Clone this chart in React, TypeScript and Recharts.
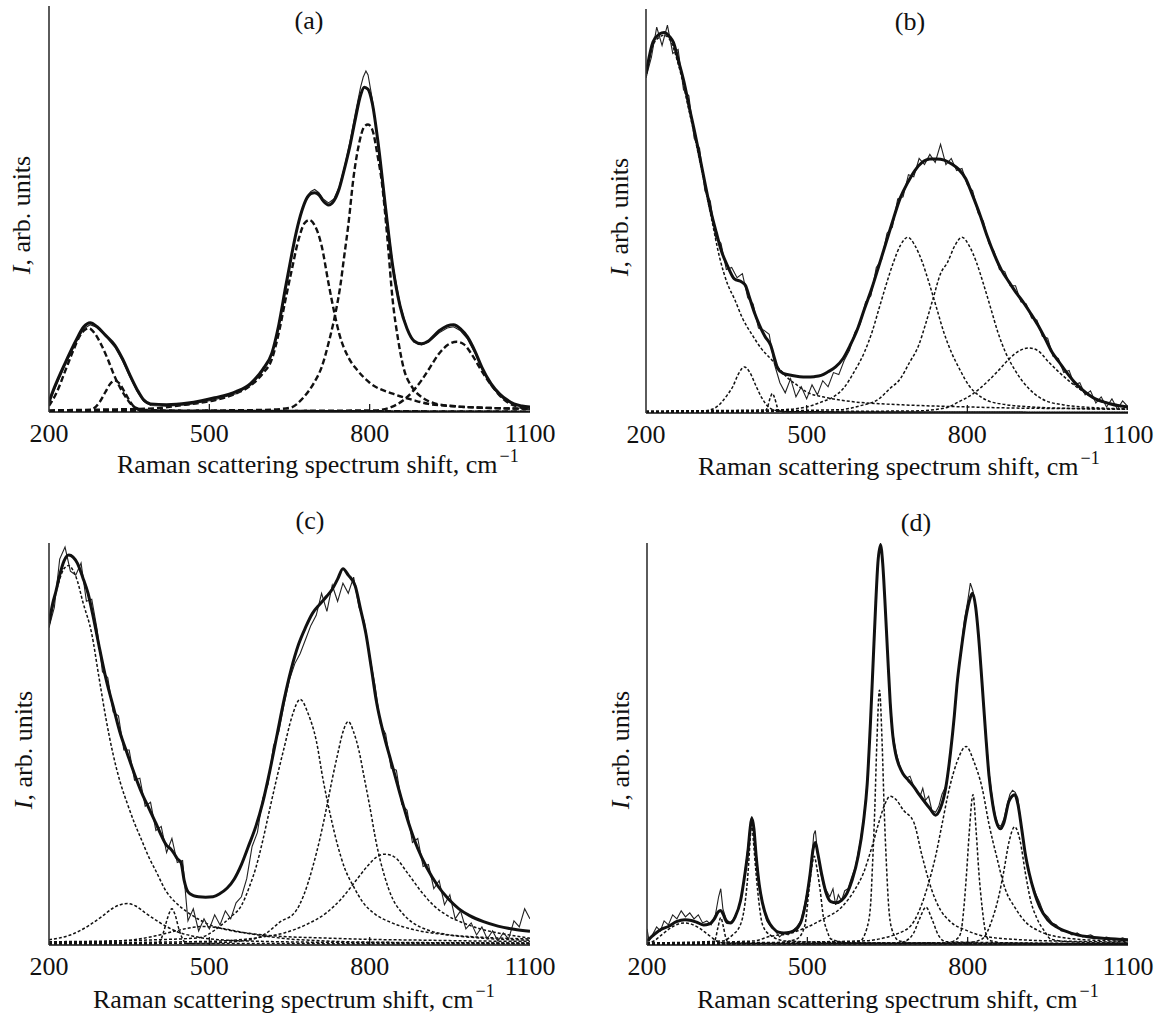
import React from "react";
import { LineChart, Line, XAxis, YAxis, ReferenceLine } from "recharts";

type Pt = [number, number];

const serif = "'Liberation Serif', 'Times New Roman', serif";
const shiftTicks = [200, 500, 800, 1100];
const innerTicks = [500, 800];
const xTitle = "Raman scattering spectrum shift, cm";

// shared wavenumber grid for the noisy measured spectra in (b) and (c)
const expShift = [
  200, 210, 220, 230, 240, 250, 260, 270, 280, 290,
  300, 310, 320, 330, 340, 350, 360, 370, 380, 390,
  400, 410, 420, 430, 440, 450, 460, 470, 480, 490,
  500, 510, 520, 530, 540, 550, 560, 570, 580, 590,
  600, 610, 620, 630, 640, 650, 660, 670, 680, 690,
  700, 710, 720, 730, 740, 750, 760, 770, 780, 790,
  800, 810, 820, 830, 840, 850, 860, 870, 880, 890,
  900, 910, 920, 930, 940, 950, 960, 970, 980, 990,
  1000, 1010, 1020, 1030, 1040, 1050, 1060, 1070, 1080, 1090,
  1100,
];

// ---------- (a) ----------
const aFit: Pt[] = [
  [200, 2.5], [210, 6], [230, 12], [250, 17.5], [265, 21], [277, 22], [290, 21], [305, 19],
  [323, 16.5], [338, 13], [350, 9.5], [365, 5.5], [377, 3], [390, 2], [420, 1.8], [460, 2.2],
  [510, 3.5], [550, 5], [577, 7], [600, 10.5], [617, 14.5], [630, 21.5], [643, 31], [653, 38],
  [663, 44.5], [673, 49.5], [683, 52.8], [690, 53.8], [697, 54], [705, 53.5], [713, 52], [723, 51],
  [733, 52], [743, 55], [753, 60], [763, 65.5], [773, 72], [783, 78], [790, 80], [797, 79.5],
  [805, 76], [817, 65], [830, 50], [843, 36], [857, 26], [870, 20.5], [883, 17.5], [897, 16.8],
  [910, 17.5], [930, 20], [945, 21.2], [957, 21.5], [970, 20.5], [983, 18.5], [997, 15],
  [1010, 11], [1027, 7], [1043, 4.5], [1057, 3], [1070, 2], [1085, 1.5], [1100, 1.2],
];
const aExp: Pt[] = [
  [200, 2], [210, 5.5], [230, 11.5], [250, 17], [265, 20.5], [277, 21.5], [290, 20.8], [305, 18.8],
  [323, 16], [338, 12.5], [350, 9], [365, 5], [377, 2.6], [390, 1.6], [420, 1.4], [460, 1.8],
  [510, 3], [550, 4.5], [577, 6.5], [600, 10], [617, 14], [630, 21], [643, 30.5], [653, 37.5],
  [663, 44.5], [673, 49.8], [683, 53.2], [690, 54.3], [697, 54.8], [705, 54], [713, 52.5],
  [723, 51.5], [733, 52.5], [743, 55.5], [753, 60.5], [763, 66.5], [773, 73.5], [783, 80],
  [788, 82.5], [793, 84], [797, 83], [805, 77], [817, 65.5], [830, 50.5], [843, 36.5],
  [857, 26.5], [870, 20.5], [883, 17.2], [897, 16.5], [910, 17.2], [930, 19.5], [945, 20.7],
  [957, 21], [970, 20], [983, 18], [997, 14.5], [1010, 10.5], [1027, 6.5], [1043, 4],
  [1057, 2.6], [1070, 1.8], [1085, 1.3], [1100, 1],
];
const aPeak1: Pt[] = [
  [200, 1.5], [215, 5], [230, 10], [245, 15], [258, 18.8], [268, 20.3], [275, 20.6], [285, 19.5],
  [298, 16.5], [310, 13], [322, 9], [333, 6], [343, 3.8], [353, 2], [363, 1], [380, 0.5],
  [500, 0.3], [800, 0.2], [1100, 0.1],
];
const aPeak2: Pt[] = [
  [200, 0.2], [270, 0.3], [283, 0.8], [295, 2.5], [305, 4.8], [315, 7], [323, 7.8], [332, 7],
  [342, 4.8], [352, 2.5], [362, 0.9], [375, 0.3], [450, 0.2], [1100, 0.1],
];
const aPeak3: Pt[] = [
  [200, 0.4], [300, 0.6], [400, 0.9], [443, 1.6], [480, 2.2], [510, 2.9], [545, 4.3], [577, 6.5],
  [600, 9.5], [617, 13], [630, 19.5], [643, 28], [655, 35.5], [667, 42.5], [678, 46.5], [687, 47.3],
  [697, 46], [710, 41], [723, 31.7], [733, 25], [743, 19.3], [760, 13.5], [777, 10.3], [800, 7.2],
  [843, 4.5], [880, 3], [910, 2], [960, 1.4], [1000, 1.1], [1050, 0.9], [1100, 0.8],
];
const aPeak4: Pt[] = [
  [200, 0.2], [600, 0.5], [650, 1], [677, 3.7], [695, 7], [710, 11], [725, 18], [737, 25],
  [745, 31], [752, 38], [760, 46], [770, 58], [780, 66], [790, 70.3], [797, 70.8], [805, 69.5],
  [815, 63], [823, 56.4], [833, 43], [843, 27.6], [853, 18], [863, 11.1], [880, 6], [897, 3.7],
  [920, 2.2], [960, 1.4], [1000, 1.1], [1050, 0.9], [1100, 0.8],
];
const aPeak5: Pt[] = [
  [200, 0.1], [810, 0.4], [840, 1.2], [863, 2.9], [880, 5], [897, 7.8], [913, 11], [930, 14.4],
  [947, 16.6], [963, 17.3], [977, 16.6], [990, 14.4], [1010, 10], [1030, 6.2], [1050, 3.2],
  [1070, 1.6], [1085, 1], [1100, 0.7],
];

// ---------- (b) ----------
const bFit: Pt[] = [
  [200, 84], [213, 91.8], [225, 93.8], [234, 94.2], [245, 93], [251, 91.8], [261, 87], [271, 81.9],
  [281, 75.5], [291, 69.5], [301, 63], [311, 56.3], [321, 50], [331, 44.8], [341, 40], [352, 36.5],
  [365, 33.2], [379, 32.4], [386, 31.5], [392, 29.1], [402, 25], [412, 21.7], [422, 19], [433, 16.7],
  [440, 13.5], [446, 11], [456, 9.8], [473, 9.3], [487, 9], [500, 8.9], [514, 9], [527, 9.3],
  [540, 10.2], [554, 11.4], [568, 13.5], [581, 16.7], [595, 20.8], [608, 25.8], [622, 31],
  [635, 36.5], [649, 42.5], [662, 48.1], [675, 53.3], [689, 57.1], [702, 60], [716, 62.1],
  [730, 62.9], [743, 62.9], [757, 62.6], [770, 61.7], [784, 60.3], [797, 58], [810, 53.8],
  [824, 48.9], [837, 43.8], [851, 39], [864, 35.3], [878, 32.4], [891, 29.8], [904, 27.5],
  [918, 24.7], [932, 21.7], [945, 18.5], [958, 15.1], [972, 12.5], [985, 10.1], [999, 7.8],
  [1013, 6], [1026, 4.6], [1039, 3.5], [1053, 2.8], [1066, 2.3], [1083, 1.8], [1100, 1.5],
];
const bExpY = [
  83, 88, 95.5, 91, 96, 89, 90, 80, 78.5, 68,
  65.5, 55, 52.5, 43.5, 42, 35.5, 36, 33.5, 34.5, 28.5,
  27, 21, 20.5, 19.5, 12, 7.5, 5, 8.5, 4, 6.5,
  3.5, 7, 4.5, 8, 6.5, 10, 9.5, 13, 15.5, 20,
  22, 27.5, 29, 36, 38, 44.5, 46, 53, 53.5, 59,
  58.5, 63, 61.5, 64, 62, 66.5, 61.5, 63, 60, 60.5,
  56.5, 55, 49.5, 47.5, 42, 40, 35.5, 35, 31.5, 31.5,
  27.5, 27, 23.5, 23, 19, 18.5, 14, 13.5, 10, 10.5,
  7, 7.5, 4.5, 5.5, 2.5, 4, 1.5, 3.5, 1, 3,
  1.5,
];
const bPeak1: Pt[] = [
  [200, 83], [213, 91], [225, 93], [234, 93.5], [245, 92.3], [261, 86], [281, 74.5], [301, 62],
  [321, 49], [338, 38.2], [352, 32], [365, 28.3], [380, 23.5], [399, 19.2], [415, 16], [433, 13.4],
  [450, 10.8], [466, 8.5], [483, 6.8], [500, 5.2], [530, 4], [568, 3.1], [600, 2.6], [635, 2.3],
  [700, 1.9], [800, 1.5], [900, 1.2], [1000, 1.1], [1100, 1],
];
const bPeak2: Pt[] = [
  [200, 0.3], [300, 0.4], [325, 1], [340, 2.5], [352, 4.5], [362, 6.5], [372, 9.5], [384, 11.4],
  [394, 10], [406, 6.5], [416, 3.8], [427, 1.7], [440, 0.7], [470, 0.3], [1100, 0.2],
];
const bPeak3: Pt[] = [
  [200, 0.2], [420, 0.3], [427, 1.5], [432, 3.8], [436, 4.8], [440, 3.8], [445, 1.5], [452, 0.3],
  [1100, 0.2],
];
const bPeak4: Pt[] = [
  [200, 0.5], [450, 0.8], [500, 1.5], [527, 2.7], [550, 4], [568, 6], [590, 10.5], [608, 15.1],
  [622, 20], [635, 25.8], [649, 32], [662, 37.3], [675, 41.5], [689, 43.5], [702, 41.5],
  [716, 37.3], [729, 32], [743, 25.8], [756, 20], [770, 15.1], [787, 10.5], [803, 6.8], [820, 4.5],
  [837, 3.1], [870, 2.1], [920, 1.5], [1000, 1.1], [1100, 0.9],
];
const bPeak5: Pt[] = [
  [200, 0.3], [560, 0.8], [600, 1.8], [635, 3.5], [655, 6], [675, 8.5], [692, 12.5], [709, 16.7],
  [722, 22], [736, 28.3], [750, 34.5], [763, 37.3], [777, 41.5], [790, 43.5], [803, 41.5],
  [817, 37.3], [830, 32], [844, 25.8], [857, 20], [871, 15.1], [888, 10.8], [904, 7.7], [925, 4.8],
  [945, 3.1], [980, 2], [1040, 1.3], [1100, 1],
];
const bPeak6: Pt[] = [
  [200, 0.3], [700, 0.5], [760, 1.3], [783, 2.7], [810, 4.7], [837, 7.7], [858, 10.5], [878, 13.4],
  [897, 15.4], [915, 16.1], [932, 15.4], [952, 12.6], [972, 10], [992, 7.7], [1015, 5.4],
  [1039, 3.5], [1070, 2.3], [1100, 1.5],
];

// ---------- (c) ----------
const cFit: Pt[] = [
  [200, 80], [207, 85], [213, 88], [220, 92], [228, 95.5], [237, 97], [245, 96.5], [253, 95],
  [263, 91.5], [273, 87.5], [283, 81.5], [293, 74.8], [307, 66], [320, 59.4], [333, 52.8],
  [347, 47.4], [360, 42.5], [373, 38], [387, 34], [400, 30.3], [410, 27.3], [420, 24.8], [427, 24],
  [433, 23], [440, 21.5], [447, 20.5], [453, 16], [460, 13.2], [470, 12.3], [480, 12], [493, 11.9],
  [507, 12], [520, 12.8], [533, 14.1], [547, 16.5], [560, 20], [573, 24.5], [587, 29.5],
  [600, 35.5], [613, 43.2], [627, 52.5], [640, 61.1], [653, 68.5], [667, 74.8], [680, 79],
  [693, 82.5], [707, 84.8], [720, 86.8], [730, 88.5], [740, 91], [750, 93.6], [760, 92],
  [773, 89.3], [783, 83.5], [793, 77.4], [803, 69], [813, 60.3], [827, 52], [840, 45.7],
  [857, 37.5], [873, 30.3], [890, 24], [907, 19.2], [927, 14.8], [947, 11.5], [967, 9],
  [987, 7.3], [1013, 5.8], [1040, 4.7], [1070, 3.9], [1100, 3.4],
];
const cExpY = [
  79, 84, 96, 99, 93, 92, 95, 85.5, 86, 78.5,
  68, 66.5, 58, 57, 48.5, 48.5, 41, 41.5, 34.5, 35.5,
  28.5, 29.5, 23, 26.5, 20.5, 21, 6, 9, 3.5, 6.5,
  4, 7.5, 5, 8.5, 6.5, 10.5, 12, 16.5, 24.5, 28,
  36.5, 40, 49.5, 53, 60, 66, 70, 72.5, 76, 79.5,
  82, 87.5, 83, 89.5, 85.5, 90, 87.5, 91.5, 84, 80.5,
  72, 64.5, 55, 52.5, 44, 43.5, 35, 33.5, 25.5, 26.5,
  19.5, 20, 14, 16, 10, 12.5, 6.5, 8.5, 4, 5.5,
  2.5, 4.5, 1.5, 3.5, 1, 3, 1.5, 6, 4.5, 9,
  6.5,
];
const cPeak1: Pt[] = [
  [200, 79], [207, 84], [213, 87.6], [220, 91], [228, 93.6], [237, 94.4], [245, 93.2], [253, 90.6],
  [263, 85.5], [280, 77.4], [293, 67], [307, 56], [320, 47.4], [333, 40.6], [347, 35], [360, 30.3],
  [373, 26.2], [387, 21.8], [400, 18.4], [420, 13.2], [440, 10.2], [460, 8.1], [480, 6.4],
  [507, 4.7], [540, 3.6], [580, 2.8], [640, 2.1], [700, 1.8], [800, 1.4], [900, 1.2], [1000, 1],
  [1100, 0.9],
];
const cPeak2: Pt[] = [
  [200, 1.3], [240, 2.5], [273, 4.7], [300, 7.2], [320, 9.2], [335, 10.1], [347, 10.3], [362, 9.7],
  [380, 8], [407, 5.6], [440, 3.3], [473, 2.1], [520, 1.3], [600, 0.9], [700, 0.7], [1100, 0.5],
];
const cPeak3: Pt[] = [
  [200, 0.3], [395, 0.3], [407, 0.8], [415, 3.5], [422, 6.8], [430, 9], [436, 7.5], [443, 4],
  [450, 1.5], [458, 0.4], [1100, 0.3],
];
const cPeak4: Pt[] = [
  [200, 0.5], [350, 1.2], [400, 2.3], [440, 3.6], [470, 4.4], [490, 4.6], [520, 4.2], [560, 3.2],
  [600, 2.3], [650, 1.5], [700, 1.1], [800, 0.7], [1100, 0.5],
];
const cPeak5: Pt[] = [
  [200, 0.8], [400, 1.3], [480, 1.8], [520, 4.7], [540, 7], [560, 9.8], [575, 14.5], [587, 19.2],
  [600, 26], [613, 33.8], [627, 42], [640, 49.1], [655, 57], [670, 61.1], [685, 57.5], [700, 50.9],
  [713, 41], [727, 32], [740, 24.8], [753, 19.2], [770, 14.5], [787, 10.7], [810, 7.7], [840, 5.6],
  [880, 3.9], [940, 2.6], [1000, 2], [1100, 1.5],
];
const cPeak6: Pt[] = [
  [200, 0.3], [500, 0.5], [580, 1.4], [607, 3], [633, 5.8], [660, 8.1], [677, 12.5], [693, 19.2],
  [707, 26.5], [720, 34.6], [730, 41.3], [740, 47.4], [750, 53], [760, 55.6], [770, 53],
  [780, 48.3], [790, 41.5], [800, 34.6], [813, 25], [827, 17.5], [843, 11.5], [860, 8.1],
  [880, 5.6], [907, 3.8], [950, 2.5], [1000, 1.8], [1100, 1.2],
];
const cPeak7: Pt[] = [
  [200, 0.5], [500, 0.9], [600, 2], [640, 3], [680, 5], [720, 8.1], [747, 11.5], [773, 15.8],
  [797, 19.8], [812, 21.8], [827, 22.6], [845, 22], [873, 17.5], [897, 13.2], [920, 9.8],
  [947, 7.2], [973, 5.6], [1007, 4], [1040, 3], [1070, 2.3], [1100, 1.7],
];

// ---------- (d) ----------
const dFit: Pt[] = [
  [200, 1], [215, 2.8], [228, 4], [240, 4.6], [255, 5.8], [271, 6.3], [283, 6.1], [294, 5.6],
  [306, 5], [316, 5.2], [326, 6.5], [333, 8.2], [338, 8.6], [343, 7.5], [350, 5.6], [357, 5.5],
  [365, 7], [375, 11], [383, 17.5], [389, 23.5], [393, 29], [396, 31.5], [400, 29], [404, 22.5],
  [410, 15], [416, 10.5], [425, 6.5], [436, 4.2], [446, 3.2], [456, 3], [468, 3.2], [480, 4],
  [490, 6.5], [497, 10.5], [505, 17.5], [511, 24], [515, 25.5], [520, 22.5], [527, 17.5],
  [535, 13], [544, 10.8], [554, 10.5], [564, 11.1], [574, 12.8], [584, 16.2], [595, 22],
  [605, 30.6], [612, 40], [618, 55], [623, 70], [628, 85], [632, 95], [637, 99.5], [641, 95],
  [645, 86], [650, 73], [655, 60.4], [660, 52], [665, 47.7], [672, 44.5], [679, 42.6], [689, 41],
  [699, 39.4], [709, 37.5], [719, 35.7], [729, 34], [740, 32.3], [749, 34], [759, 39.1], [768, 48],
  [775, 57], [780, 64.7], [788, 73.5], [797, 81.7], [803, 85.5], [809, 87.5], [815, 84],
  [820, 77.4], [827, 65], [834, 51.9], [840, 42], [847, 34.9], [854, 30.5], [861, 28.9],
  [868, 30.5], [877, 35.7], [883, 37], [888, 37.4], [894, 35], [901, 29], [908, 22.5], [915, 17.9],
  [925, 13], [935, 9.4], [950, 6.2], [969, 4.3], [995, 2.9], [1022, 2.1], [1060, 1.6], [1100, 1.3],
];
const dExp: Pt[] = [
  [200, 4], [204, 1], [210, 2.5], [218, 4.5], [225, 3.5], [232, 6], [240, 5], [248, 7.5],
  [256, 6.5], [264, 8.5], [272, 7], [280, 8], [288, 6.5], [296, 7.5], [304, 5.5], [312, 6],
  [320, 5], [328, 7.5], [334, 12], [338, 14], [342, 9], [348, 6.5], [355, 5.5], [362, 6.5],
  [370, 8.5], [378, 13], [384, 19], [389, 24.5], [393, 29.5], [396, 32], [400, 29.5], [404, 23],
  [410, 15.5], [416, 10], [424, 6], [432, 4.5], [440, 3.5], [448, 2], [456, 3], [464, 2.5],
  [472, 3.5], [480, 4.5], [488, 6], [495, 10], [502, 15], [508, 21], [512, 27.5], [515, 28.5],
  [519, 23], [524, 18.5], [530, 15], [536, 13.5], [542, 12], [548, 14], [553, 10], [558, 12.5],
  [564, 11], [570, 13.5], [576, 14], [582, 16.5], [590, 19.5], [598, 25], [605, 31], [612, 40.5],
  [618, 55.5], [623, 70.5], [628, 85.5], [632, 95.5], [637, 100], [641, 95.5], [645, 86],
  [650, 73.5], [655, 61], [660, 52.5], [666, 48], [672, 45], [679, 42.5], [685, 41.5], [692, 42],
  [699, 39.5], [705, 38.5], [711, 37], [716, 39], [721, 36], [727, 37], [733, 33.5], [740, 33],
  [746, 34.5], [752, 37.5], [759, 39.5], [766, 45.5], [773, 54], [780, 64], [787, 73], [794, 81],
  [800, 85.5], [805, 90], [810, 88], [815, 84.5], [820, 77.5], [827, 65.5], [834, 52.5], [840, 43],
  [847, 35.5], [852, 32], [857, 30], [862, 29.5], [868, 31.5], [874, 35], [879, 37.5], [884, 38.5],
  [889, 38], [894, 36.5], [900, 30], [907, 23.5], [914, 18.5], [921, 15], [928, 12.5], [935, 10.5],
  [942, 8], [950, 7], [958, 5.5], [966, 5], [975, 3.5], [985, 3.5], [995, 2.5], [1005, 3],
  [1015, 2], [1030, 2.5], [1045, 1.5], [1060, 2], [1075, 1.2], [1090, 1.8], [1100, 1.2],
];
const dPeak1: Pt[] = [
  [200, 0.4], [213, 1], [228, 2.6], [245, 4.3], [260, 5.3], [271, 5.5], [283, 5.2], [297, 4.3],
  [310, 3], [320, 2], [330, 1], [345, 0.5], [1100, 0.2],
];
const dPeak2: Pt[] = [
  [200, 0.3], [322, 0.3], [328, 1.5], [333, 4.5], [338, 6.8], [343, 4.5], [348, 1.5], [355, 0.3],
  [1100, 0.2],
];
const dPeak3: Pt[] = [
  [200, 0.5], [340, 1], [360, 2.5], [375, 5.1], [383, 10], [389, 17.9], [393, 26], [396, 30.6],
  [399, 26], [404, 17.9], [410, 10], [416, 5.1], [430, 2.5], [460, 1], [600, 0.5], [1100, 0.3],
];
const dPeak4: Pt[] = [
  [200, 0.3], [440, 0.5], [480, 1.5], [492, 3.5], [497, 6], [503, 13.6], [508, 19], [513, 22.1],
  [518, 19], [524, 13.6], [530, 7], [537, 3.5], [544, 1.5], [580, 0.5], [1100, 0.3],
];
const dPeak5: Pt[] = [
  [200, 0.4], [400, 1], [429, 2.1], [470, 3], [497, 4.3], [530, 6.5], [564, 9.4], [590, 14],
  [605, 17.9], [620, 24], [635, 31], [645, 35], [655, 37], [665, 36.3], [680, 33.5], [699, 30.6],
  [715, 22], [733, 13.6], [750, 8.5], [766, 6], [800, 3.5], [834, 2.1], [900, 1.3], [1000, 0.9],
  [1100, 0.7],
];
const dPeak6: Pt[] = [
  [200, 0.3], [560, 0.5], [598, 1], [611, 4], [618, 9.4], [622, 20], [626, 33], [630, 50],
  [635, 63.4], [640, 50], [644, 33], [648, 20], [652, 10], [658, 4], [672, 1], [700, 0.5],
  [1100, 0.3],
];
const dPeak7: Pt[] = [
  [200, 0.3], [670, 0.5], [690, 1.5], [699, 3], [710, 6.5], [722, 9.4], [733, 6.5], [745, 2.5],
  [760, 0.8], [1100, 0.3],
];
const dPeak8: Pt[] = [
  [200, 0.4], [600, 1], [679, 3.4], [700, 6], [712, 9.4], [726, 15], [740, 22.1], [752, 30],
  [766, 39.1], [780, 45.5], [797, 49.4], [812, 45.5], [827, 39.1], [840, 30], [854, 22.1],
  [870, 14], [888, 9.4], [910, 5.5], [935, 3.4], [980, 1.8], [1050, 1.1], [1100, 0.9],
];
const dPeak9: Pt[] = [
  [200, 0.3], [760, 0.5], [780, 1.5], [787, 3], [793, 9.4], [798, 18], [803, 28], [810, 37.4],
  [816, 28], [821, 18], [827, 9.4], [833, 3.5], [840, 1.2], [870, 0.5], [1100, 0.3],
];
const dPeak10: Pt[] = [
  [200, 0.3], [800, 0.6], [827, 1.5], [847, 6.8], [858, 12], [867, 17.9], [878, 26], [888, 29.4],
  [898, 26], [908, 17.9], [918, 11], [929, 6.8], [945, 3.2], [955, 1.5], [990, 0.8], [1100, 0.5],
];

const rows = (p: Pt[]) => p.map(([x, y]) => ({ x, y }));
const gridRows = (ys: number[]) => expShift.map((x, i) => ({ x, y: ys[i] }));

interface PanelProps {
  box: [number, number, number, number]; // plot left, top, right, bottom in page px
  fit: Pt[];
  exp: { x: number; y: number }[];
  comps: Pt[][];
  dashWidth: number;
  dash: string;
}

function Panel({ box, fit, exp, comps, dashWidth, dash }: PanelProps) {
  const [L, T, R, B] = box;
  const plotW = R - L;
  const plotH = B - T;
  return (
    <div style={{ position: "absolute", left: L - 49, top: T - 10 }}>
      <LineChart
        width={plotW + 79}
        height={plotH + 70}
        margin={{ top: 10, right: 30, left: 39, bottom: 10 }}
      >
        <XAxis
          type="number"
          dataKey="x"
          domain={[200, 1100]}
          allowDataOverflow
          ticks={shiftTicks}
          interval={0}
          tickLine={false}
          tickMargin={6}
          height={50}
          axisLine={{ stroke: "#111", strokeWidth: 1.5 }}
          tick={{ fill: "#111", fontSize: 26, fontFamily: serif }}
        />
        <YAxis
          type="number"
          dataKey="y"
          domain={[0, 100]}
          allowDataOverflow
          tick={false}
          tickLine={false}
          width={10}
          axisLine={{ stroke: "#333", strokeWidth: 1.6 }}
        />
        {innerTicks.map((v) => (
          <ReferenceLine
            key={v}
            segment={[{ x: v, y: 0 }, { x: v, y: 2 }]}
            stroke="#111"
            strokeWidth={1.2}
          />
        ))}
        {comps.map((c, i) => (
          <Line
            key={i}
            data={rows(c)}
            dataKey="y"
            type="monotone"
            stroke="#111"
            strokeWidth={dashWidth}
            strokeDasharray={dash}
            dot={false}
            activeDot={false}
            isAnimationActive={false}
          />
        ))}
        <Line
          data={exp}
          dataKey="y"
          type="linear"
          stroke="#222"
          strokeWidth={1.1}
          dot={false}
          activeDot={false}
          isAnimationActive={false}
        />
        <Line
          data={rows(fit)}
          dataKey="y"
          type="monotone"
          stroke="#111"
          strokeWidth={3}
          dot={false}
          activeDot={false}
          isAnimationActive={false}
        />
      </LineChart>
    </div>
  );
}

function XTitle({ x, y }: { x: number; y: number }) {
  return (
    <text x={x} y={y} fontSize={26} fontFamily={serif} fill="#111">
      {xTitle}
      <tspan dx={2} dy={-11} fontSize={18}>
        −1
      </tspan>
    </text>
  );
}

function YTitle({ x, y }: { x: number; y: number }) {
  return (
    <text
      transform={`translate(${x},${y}) rotate(-90)`}
      textAnchor="middle"
      fontSize={26}
      fontFamily={serif}
      fill="#111"
    >
      <tspan fontStyle="italic">I</tspan>, arb. units
    </text>
  );
}

function Tag({ x, y, label }: { x: number; y: number; label: string }) {
  return (
    <text x={x} y={y} textAnchor="middle" fontSize={26} fontFamily={serif} fill="#111">
      {label}
    </text>
  );
}

export default function App() {
  return (
    <div
      style={{
        position: "absolute",
        left: 0,
        top: 0,
        width: 1156,
        height: 1019,
        overflow: "hidden",
        background: "#fff",
      }}
    >
      <Panel
        box={[49, 6, 530, 412]}
        fit={aFit}
        exp={rows(aExp)}
        comps={[aPeak1, aPeak2, aPeak3, aPeak4, aPeak5]}
        dashWidth={2.4}
        dash="6 3"
      />
      <Panel
        box={[646, 9, 1128, 413]}
        fit={bFit}
        exp={gridRows(bExpY)}
        comps={[bPeak1, bPeak2, bPeak3, bPeak4, bPeak5, bPeak6]}
        dashWidth={1.5}
        dash="3 2"
      />
      <Panel
        box={[49, 543, 530, 945]}
        fit={cFit}
        exp={gridRows(cExpY)}
        comps={[cPeak1, cPeak2, cPeak3, cPeak4, cPeak5, cPeak6, cPeak7]}
        dashWidth={1.5}
        dash="3 2"
      />
      <Panel
        box={[647, 543, 1128, 945]}
        fit={dFit}
        exp={rows(dExp)}
        comps={[dPeak1, dPeak2, dPeak3, dPeak4, dPeak5, dPeak6, dPeak7, dPeak8, dPeak9, dPeak10]}
        dashWidth={1.5}
        dash="3 2"
      />
      <svg
        width={1156}
        height={1019}
        style={{ position: "absolute", left: 0, top: 0, pointerEvents: "none" }}
      >
        <Tag x={309} y={29} label="(a)" />
        <Tag x={910} y={30} label="(b)" />
        <Tag x={310} y={529} label="(c)" />
        <Tag x={916} y={531} label="(d)" />
        <XTitle x={117} y={473} />
        <XTitle x={698} y={475} />
        <XTitle x={93} y={1008} />
        <XTitle x={697} y={1008} />
        <YTitle x={30} y={215} />
        <YTitle x={628} y={217} />
        <YTitle x={32} y={750} />
        <YTitle x={629} y={750} />
      </svg>
    </div>
  );
}
